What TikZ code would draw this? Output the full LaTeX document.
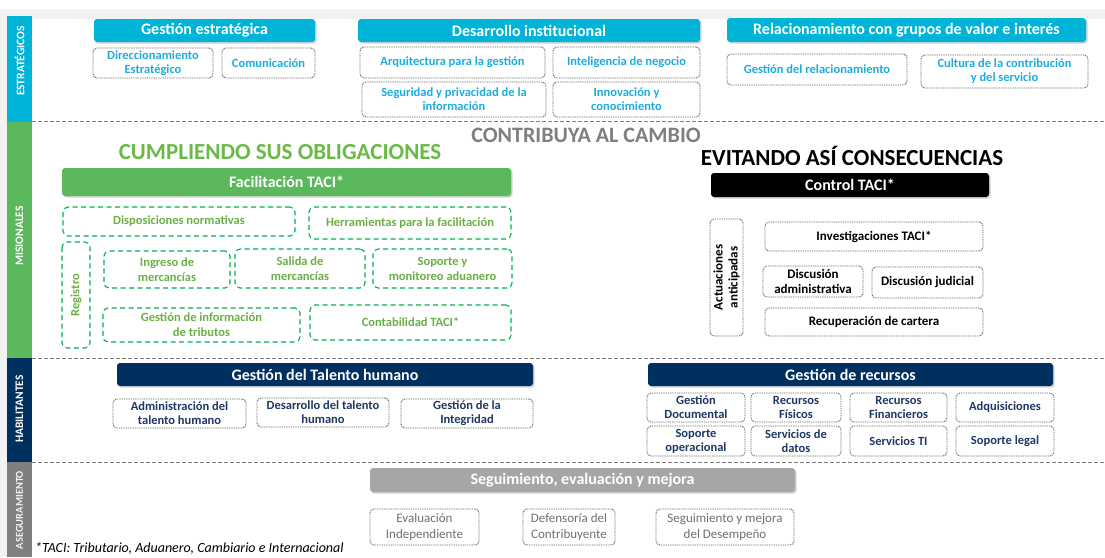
\documentclass[tikz,border=0pt]{standalone}
\usepackage{fontspec}
\setmainfont{Carlito}
\usepackage{tikz}
\usetikzlibrary{shadows}

\definecolor{cyanhead}{RGB}{0,180,216}
\definecolor{cyantext}{RGB}{30,172,222}
\definecolor{greenhead}{RGB}{92,184,92}
\definecolor{greendash}{RGB}{0,176,80}
\definecolor{greentext}{RGB}{106,176,68}
\definecolor{greentitle}{RGB}{106,186,72}
\definecolor{navyhead}{RGB}{0,48,96}
\definecolor{navytext}{RGB}{31,56,100}
\definecolor{grayhead}{RGB}{166,166,166}
\definecolor{grayside}{RGB}{127,127,127}
\definecolor{graytext}{RGB}{112,112,112}
\definecolor{dotgray}{RGB}{105,105,105}
\definecolor{paper}{RGB}{242,242,242}

\begin{document}
\begin{tikzpicture}[x=1pt,y=-1pt,
    head/.style={rectangle, rounded corners=3pt, inner sep=0pt, text=white,
      font=\bfseries\fontsize{16}{18}\selectfont,
      drop shadow={shadow xshift=1.5pt, shadow yshift=-1.5pt, opacity=0.35}},
    dotbox/.style={rectangle, rounded corners=4pt, draw=dotgray, line width=0.9pt,
      dash pattern=on 1pt off 0.8pt, inner sep=1pt, align=center,
      font=\bfseries\fontsize{12.5}{14}\selectfont},
    blackbox/.style={dotbox, font=\bfseries\fontsize{13}{15}\selectfont},
    graybox/.style={dotbox, text=graytext, font=\fontsize{13}{16}\selectfont},
    greenbox/.style={rectangle, rounded corners=5pt, draw=greendash, line width=1.1pt,
      dash pattern=on 5pt off 3.5pt, inner sep=1pt, align=center, text=greentext,
      font=\bfseries\fontsize{12.5}{15}\selectfont},
    sidetext/.style={rotate=90, text=white, font=\bfseries\fontsize{11.5}{13}\selectfont},
    sepline/.style={draw=grayside, line width=0.7pt, dash pattern=on 4pt off 2pt},
    bigtitle/.style={font=\bfseries\fontsize{23}{25}\selectfont}
  ]
  \useasboundingbox (0,0) rectangle (1105,557);
  \fill[paper] (0,9) rectangle (1105,557);
  \fill[white] (32,19) rectangle (1105,557);

  % franjas laterales
  \fill[cyanhead] (7,16) rectangle (32,122);
  \fill[greenhead] (7,122) rectangle (32,358);
  \fill[navyhead] (7,358) rectangle (32,462);
  \fill[grayside] (7,462) rectangle (32,557);
  \node[sidetext] (estr) at (19.5,61) {ESTRATÉGICOS};
  \node[sidetext] (misi) at (19.5,236) {MISIONALES};
  \node[sidetext] (habi) at (19.5,409) {HABILITANTES};
  \node[sidetext, text=paper, font=\bfseries\fontsize{10.5}{12}\selectfont] (aseg) at (19.5,510) {ASEGURAMIENTO};

  \draw[sepline] (32,121) -- (1105,121);
  \draw[sepline] (32,358) -- (1105,358);
  \draw[sepline] (32,462) -- (1105,462);

  % estrategicos
  \node[head, fill=cyanhead, minimum width=221pt, minimum height=23pt] (gest) at (204.5,30.5) {Gestión estratégica};
  \node[head, fill=cyanhead, minimum width=342pt, minimum height=23pt] (desa) at (529,30.5) {Desarrollo institucional};
  \node[head, fill=cyanhead, minimum width=359pt, minimum height=24pt] (rela) at (906.5,30) {Relacionamiento con grupos de valor e interés};

  \node[dotbox, text=cyantext, minimum width=120pt, minimum height=30pt] (dire) at (153,63) {Direccionamiento\\Estratégico};
  \node[dotbox, text=cyantext, minimum width=93pt, minimum height=30pt] (comu) at (268.5,63) {Comunicación};
  \node[dotbox, text=cyantext, minimum width=185pt, minimum height=31pt] (arqu) at (452.5,62.5) {Arquitectura para la gestión};
  \node[dotbox, text=cyantext, minimum width=184pt, minimum height=35pt] (segu) at (454,99.5) {Seguridad y privacidad de la\\información};
  \node[dotbox, text=cyantext, minimum width=147pt, minimum height=31pt] (intn) at (626.5,62.5) {Inteligencia de negocio};
  \node[dotbox, text=cyantext, minimum width=147pt, minimum height=35pt] (inno) at (626.5,99.5) {Innovación y\\conocimiento};
  \node[dotbox, text=cyantext, minimum width=180pt, minimum height=31pt] (grel) at (817,69.5) {Gestión del relacionamiento};
  \node[dotbox, text=cyantext, minimum width=167pt, minimum height=33pt] (cult) at (1004.5,71.5) {Cultura de la contribución\\y del  servicio};

  % misionales
  \node[bigtitle, text=grayside, font=\bfseries\fontsize{22}{24}\selectfont] (camb) at (586,135) {CONTRIBUYA AL CAMBIO};
  \node[bigtitle, text=greentitle] (cump) at (280,152) {CUMPLIENDO SUS OBLIGACIONES};
  \node[bigtitle, text=black] (evit) at (852,156) {EVITANDO ASÍ CONSECUENCIAS};

  \node[head, fill=greenhead, minimum width=449pt, minimum height=28pt] (faci) at (286.5,182) {Facilitación TACI*};
  \node[greenbox, minimum width=232pt, minimum height=29pt] (disp) at (179,221.5) {Disposiciones normativas};
  \node[greenbox, minimum width=202pt, minimum height=32pt] (herr) at (410,223) {Herramientas para la facilitación};
  \node[greenbox, rotate=90, minimum width=106pt, minimum height=28pt] (regi) at (76,295) {Registro};
  \node[greenbox, minimum width=126pt, minimum height=37pt] (ingr) at (167,269.5) {Ingreso de\\mercancías};
  \node[greenbox, minimum width=130pt, minimum height=39pt] (sali) at (300,268.5) {Salida de\\mercancías};
  \node[greenbox, minimum width=139pt, minimum height=39pt] (sopo) at (442.5,268.5) {Soporte y\\monitoreo  aduanero};
  \node[greenbox, minimum width=197pt, minimum height=34pt] (gein) at (201.5,325) {Gestión de  información\\de  tributos};
  \node[greenbox, minimum width=201pt, minimum height=35pt] (cont) at (410.5,322.5) {Contabilidad TACI*};

  \node[head, fill=black, minimum width=278pt, minimum height=24pt] (ctrl) at (850,185) {Control TACI*};
  \node[blackbox, rotate=90, minimum width=117pt, minimum height=33pt] (actu) at (726.5,277.5) {Actuaciones\\anticipadas};
  \node[blackbox, minimum width=218pt, minimum height=29pt] (inve) at (874,236.5) {Investigaciones TACI*};
  \node[blackbox, minimum width=100pt, minimum height=31pt] (dadm) at (813,281.5) {Discusión\\administrativa};
  \node[blackbox, minimum width=111pt, minimum height=31pt] (djud) at (927.5,282.5) {Discusión judicial};
  \node[blackbox, minimum width=218pt, minimum height=28pt] (recu) at (874,322) {Recuperación de cartera};

  % habilitantes
  \node[head, fill=navyhead, minimum width=416pt, minimum height=23pt] (tale) at (325,374.5) {Gestión del Talento humano};
  \node[dotbox, text=navytext, minimum width=133pt, minimum height=29pt] (admi) at (179.5,413.5) {Administración del\\talento humano};
  \node[dotbox, text=navytext, minimum width=132pt, minimum height=29pt] (dtal) at (323,412.5) {Desarrollo del talento\\humano};
  \node[dotbox, text=navytext, minimum width=132pt, minimum height=29pt] (gint) at (467,413.5) {Gestión de la\\Integridad};

  \node[head, fill=navyhead, minimum width=405pt, minimum height=23pt] (recs) at (850.5,374.5) {Gestión de recursos};
  \node[dotbox, text=navytext, minimum width=98pt, minimum height=29pt] (gdoc) at (696,407.5) {Gestión\\Documental};
  \node[dotbox, text=navytext, minimum width=90pt, minimum height=29pt] (rfis) at (796,407.5) {Recursos\\Físicos};
  \node[dotbox, text=navytext, minimum width=97pt, minimum height=29pt] (rfin) at (898.5,407.5) {Recursos\\Financieros};
  \node[dotbox, text=navytext, minimum width=98pt, minimum height=29pt] (adqu) at (1005,407.5) {Adquisiciones};
  \node[dotbox, text=navytext, minimum width=98pt, minimum height=30pt] (sope) at (696,441) {Soporte\\operacional};
  \node[dotbox, text=navytext, minimum width=90pt, minimum height=30pt] (sdat) at (796,441) {Servicios de\\datos};
  \node[dotbox, text=navytext, minimum width=97pt, minimum height=30pt] (sti) at (898.5,441) {Servicios TI};
  \node[dotbox, text=navytext, minimum width=98pt, minimum height=30pt] (sleg) at (1005,441) {Soporte  legal};

  % aseguramiento
  \node[head, fill=grayhead, minimum width=425pt, minimum height=24pt] (segm) at (582.5,480) {Seguimiento, evaluación y mejora};
  \node[graybox, minimum width=109pt, minimum height=36pt] (eval) at (424.5,527) {Evaluación\\Independiente};
  \node[graybox, minimum width=92pt, minimum height=36pt] (defe) at (569,527) {Defensoría del\\Contribuyente};
  \node[graybox, minimum width=138pt, minimum height=36pt] (segd) at (725,527) {Seguimiento y mejora\\del Desempeño};

  \node[anchor=west, inner sep=0pt, font=\itshape\fontsize{14}{16}\selectfont] (nota) at (35,548) {*TACI: Tributario, Aduanero, Cambiario e Internacional};
\end{tikzpicture}
\end{document}
